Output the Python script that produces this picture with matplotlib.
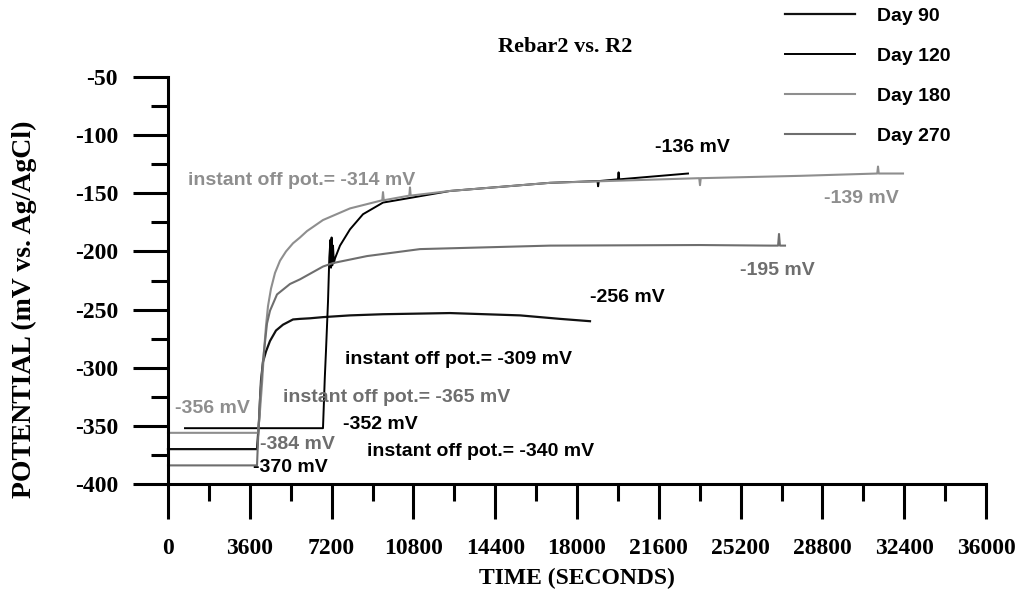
import matplotlib
matplotlib.use("Agg")
import matplotlib.pyplot as plt
from matplotlib.ticker import MultipleLocator

# time (s) and potential (mV vs. Ag/AgCl)
t_day90 = [0, 3917, 4005, 4093, 4181, 4313, 4489, 4753, 5061, 5501, 5809, 6249,
           6821, 8010, 9462, 12411, 15492, 17252, 18572]
v_day90 = [-370, -370, -346, -311, -295, -286, -277, -268, -263, -258.5, -258, -257.5,
           -256.5, -255, -254, -253, -255, -258, -260]

t_day120 = [748, 6821, 6900, 6954, 7042, 7100, 7130, 7150, 7174, 7200, 7230, 7262,
            7300, 7350, 7570, 8010, 8582, 9462, 10650, 12411, 16812, 18900, 18930,
            18960, 19800, 19830, 19860, 22885]
v_day120 = [-352, -352, -309, -285, -243, -205, -196, -190, -214, -188, -212, -195,
            -210, -206, -195, -181, -168, -158, -154, -148, -141, -139.5, -144,
            -139.5, -138, -132, -138, -133]

t_day180 = [0, 3961, 4049, 4137, 4225, 4313, 4401, 4533, 4709, 4929, 5193, 5501,
            5809, 6117, 6821, 8010, 9430, 9462, 9495, 10620, 10650, 10680, 12411,
            16812, 23380, 23413, 23446, 27814, 31214, 31247, 31280, 32347]
v_day180 = [-356, -356, -337, -314, -286, -264, -247, -232, -218.5, -208, -200, -193,
            -188, -182.5, -173, -163, -156, -149, -156, -152, -145, -152, -148,
            -141, -137, -143, -137, -135, -133, -127, -133, -133]

t_day270 = [0, 3917, 3961, 4049, 4181, 4357, 4489, 4797, 5369, 5809, 6821, 7262,
            8758, 11091, 16812, 23413, 26494, 26850, 26890, 26930, 27154]
v_day270 = [-384, -384, -363, -326, -294, -262, -251, -237, -228, -224, -213, -210,
            -204, -198, -195, -194.5, -195, -195, -185, -195, -195]

x_ticks = [0, 3600, 7200, 10800, 14400, 18000, 21600, 25200, 28800, 32400, 36000]
y_ticks = [-400, -350, -300, -250, -200, -150, -100, -50]

black = "#000000"
light = "#8e8e8e"
mid = "#6e6e6e"

plt.rcParams["font.family"] = "Liberation Serif"
plt.rcParams["font.weight"] = "bold"
plt.rcParams["axes.unicode_minus"] = False

fig = plt.figure(figsize=(10.19, 5.89), dpi=100)
ax = fig.add_axes([168 / 1019, 105 / 589, 818 / 1019, 407 / 589])

l90, = ax.plot(t_day90, v_day90, color="#111111", lw=1.6, clip_on=False)
l120, = ax.plot(t_day120, v_day120, color=black, lw=1.4, clip_on=False)
l180, = ax.plot(t_day180, v_day180, color=light, lw=1.5, clip_on=False)
l270, = ax.plot(t_day270, v_day270, color=mid, lw=1.5, clip_on=False)

ax.set_xlim(0, 36000)
ax.set_ylim(-400, -50)
ax.set_xticks(x_ticks)
ax.set_yticks(y_ticks)
ax.xaxis.set_minor_locator(MultipleLocator(1800))
ax.yaxis.set_minor_locator(MultipleLocator(25))

for s in ["top", "right"]:
    ax.spines[s].set_visible(False)
for s in ["left", "bottom"]:
    ax.spines[s].set_linewidth(2.2)

ax.tick_params(axis="both", which="major", direction="out", length=25, width=2.2,
               labelsize=17)
ax.tick_params(axis="x", which="major", pad=14)
ax.tick_params(axis="y", which="major", pad=11)
ax.tick_params(axis="both", which="minor", direction="out", length=12.5, width=2.2)
for lab in ax.get_xticklabels() + ax.get_yticklabels():
    lab.set_fontweight("bold")

ax.set_xlabel("TIME (SECONDS)", fontsize=17, fontweight="bold")
ax.xaxis.set_label_coords(0.5, -0.205)
ax.set_ylabel("POTENTIAL (mV vs. Ag/AgCl)", fontsize=20, fontweight="bold")
ax.yaxis.set_label_coords(-0.16, 0.43)

fig.text(565 / 1019, 1 - 47 / 589, "Rebar2 vs. R2", fontsize=16, fontweight="bold",
         ha="center", va="center")

sans = dict(family="Liberation Sans", fontsize=14, fontweight="bold",
            ha="left", va="center")
ax.text(880, -139.4, "instant off pot.= -314 mV", color=light, **sans)
ax.text(21433, -111, "-136 mV", color=black, **sans)
ax.text(28871, -154.9, "-139 mV", color=light, **sans)
ax.text(25174, -216.8, "-195 mV", color=mid, **sans)
ax.text(18572, -239.2, "-256 mV", color=black, **sans)
ax.text(7790, -293.3, "instant off pot.= -309 mV", color=black, **sans)
ax.text(5061, -326, "instant off pot.= -365 mV", color=mid, **sans)
ax.text(308, -335.5, "-356 mV", color=light, **sans)
ax.text(7702, -349.2, "-352 mV", color=black, **sans)
ax.text(4049, -366.4, "-384 mV", color=mid, **sans)
ax.text(8758, -372.4, "instant off pot.= -340 mV", color=black, **sans)
ax.text(3741, -386.2, "-370 mV", color=black, **sans)

fig.legend([l90, l120, l180, l270], ["Day 90", "Day 120", "Day 180", "Day 270"],
           loc="upper left", bbox_to_anchor=(785 / 1019, 1 - 7 / 589),
           frameon=False, borderpad=0, borderaxespad=0, handlelength=3.6,
           handletextpad=1.15, labelspacing=1.16,
           prop=dict(family="Liberation Sans", size=14, weight="bold"))

fig.savefig("out.png", dpi=100)
